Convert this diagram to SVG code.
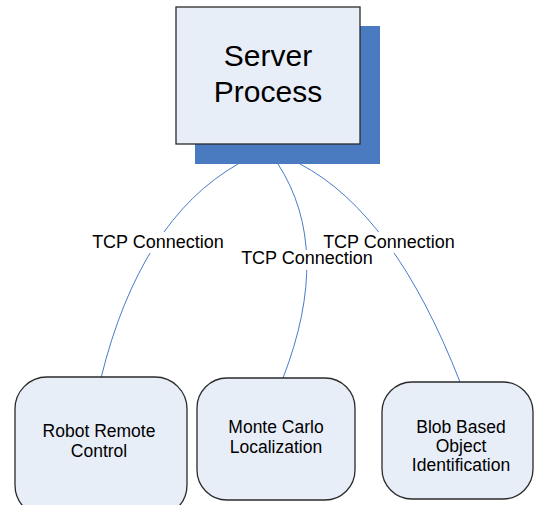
<svg xmlns="http://www.w3.org/2000/svg" width="536" height="505" viewBox="0 0 536 505">
<style>
.box{fill:#e8eef8;stroke:#2a2a2a;stroke-width:1.3}
.t{font-family:"Liberation Sans",Arial,sans-serif;fill:#000;text-anchor:middle}
.n{font-size:17.5px}
.l{font-size:18px}
.c{fill:none;stroke:#4a7bc8;stroke-width:1}
</style>
<rect width="536" height="505" fill="#fff"/>
<g id="server">
<rect x="195" y="26" width="185" height="138" fill="#4a7abf"/>
<rect class="box" x="176" y="7" width="184" height="137"/>
<text class="t" x="268" y="66" font-size="30">Server</text>
<text class="t" x="268" y="102" font-size="30">Process</text>
</g>
<g id="connectors">
<path class="c" d="M238,164 Q140,220 101,378"/>
<path class="c" d="M278,164 Q333,249 283,378"/>
<path class="c" d="M300,164 Q394,213 460,382"/>
<rect x="89" y="232" width="138" height="21" fill="#fff"/>
<rect x="238" y="250" width="138" height="20" fill="#fff"/>
<rect x="320" y="232" width="138" height="21" fill="#fff"/>
<text class="t l" x="158" y="248">TCP Connection</text>
<text class="t l" x="307" y="264">TCP Connection</text>
<text class="t l" x="389" y="248">TCP Connection</text>
</g>
<g id="robot">
<rect class="box" x="15" y="377" width="172" height="140" rx="32"/>
<text class="t n" x="99" y="437">Robot Remote</text>
<text class="t n" x="99" y="457">Control</text>
</g>
<g id="monte">
<rect class="box" x="197" y="378" width="158" height="122" rx="30"/>
<text class="t n" x="276" y="433">Monte Carlo</text>
<text class="t n" x="276" y="453">Localization</text>
</g>
<g id="blob">
<rect class="box" x="382" y="382" width="151" height="117" rx="30"/>
<text class="t n" x="461" y="433">Blob Based</text>
<text class="t n" x="461" y="452">Object</text>
<text class="t n" x="461" y="471">Identification</text>
</g>
</svg>
